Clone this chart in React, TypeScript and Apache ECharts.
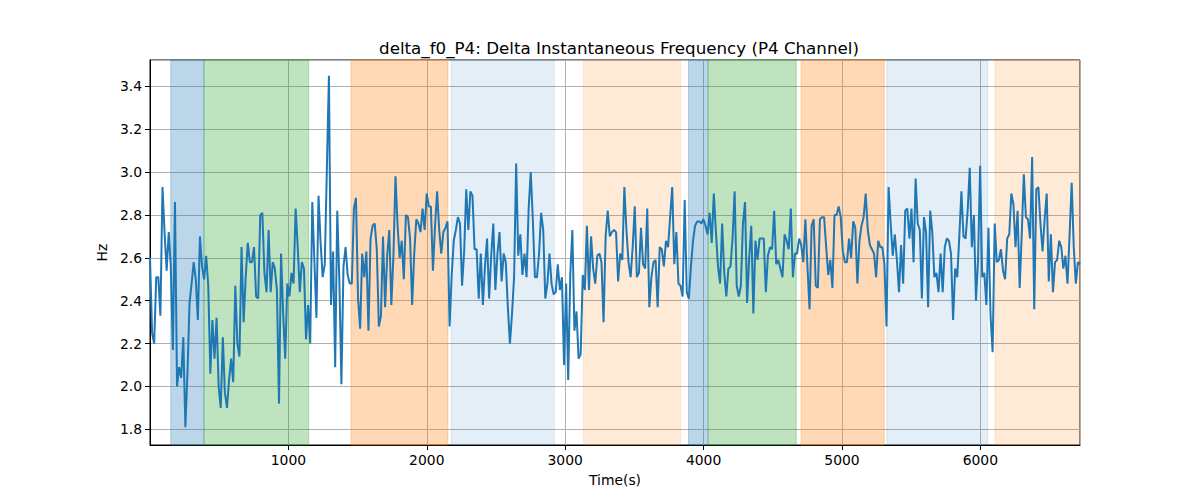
import React, { useEffect, useRef } from "react";
import * as echarts from "echarts";

const TITLE = "delta_f0_P4: Delta Instantaneous Frequency (P4 Channel)";
const X_NAME = "Time(s)";
const Y_NAME = "Hz";
const TIME_MAX = 6720;
const Y_MIN = 1.727;
const Y_MAX = 3.523;

// delta instantaneous frequency values (Hz), evenly sampled over 0..TIME_MAX
const values: number[] = [
  // 0 - ~850
  2.60, 2.25, 2.20, 2.51, 2.51, 2.33, 2.93, 2.72, 2.54, 2.72, 2.56, 2.17, 2.86, 2.00, 2.09, 2.04, 2.23, 1.81, 2.06, 2.39,
  2.48, 2.58, 2.50, 2.31, 2.70, 2.56, 2.50, 2.61, 2.47, 2.06, 2.31, 2.13, 2.32, 2.00, 1.90, 2.23, 1.97, 1.90, 2.03, 2.13,
  2.02, 2.47, 2.20, 2.14, 2.65, 2.30, 2.51, 2.67, 2.58, 2.58, 2.65, 2.42, 2.41, 2.80, 2.81, 2.53, 2.44,
  // ~850 - ~1700
  2.73, 2.44, 2.58, 2.55, 2.45, 1.92, 2.62, 2.34, 2.13, 2.48, 2.42, 2.53, 2.48, 2.83, 2.65, 2.44, 2.58, 2.55, 2.22, 2.38,
  2.20, 2.86, 2.59, 2.32, 2.89, 2.67, 2.51, 2.57, 3.01, 3.45, 2.38, 2.63, 2.09, 2.82, 2.50, 2.01, 2.56, 2.65, 2.52, 2.48,
  2.48, 2.83, 2.88, 2.41, 2.27, 2.62, 2.51, 2.63, 2.26, 2.69, 2.75, 2.76, 2.64, 2.28, 2.33, 2.70,
  // ~1700 - ~2550
  2.37, 2.61, 2.73, 2.38, 2.61, 2.98, 2.75, 2.60, 2.68, 2.50, 2.80, 2.79, 2.69, 2.38, 2.62, 2.78, 2.76, 2.72, 2.83, 2.73,
  2.90, 2.84, 2.84, 2.54, 2.75, 2.91, 2.73, 2.62, 2.72, 2.74, 2.77, 2.28, 2.52, 2.68, 2.73, 2.79, 2.76, 2.47, 2.63, 2.92,
  2.73, 2.91, 2.89, 2.64, 2.64, 2.41, 2.62, 2.38, 2.56, 2.69, 2.41, 2.61, 2.76, 2.45, 2.62,
  // ~2550 - ~3400
  2.72, 2.49, 2.62, 2.58, 2.37, 2.20, 2.34, 2.51, 3.04, 2.61, 2.71, 2.52, 2.62, 2.51, 2.83, 3.00, 2.78, 2.51, 2.51, 2.62,
  2.81, 2.73, 2.41, 2.48, 2.62, 2.48, 2.43, 2.44, 2.57, 2.45, 2.51, 2.10, 2.48, 2.03, 2.52, 2.73, 2.26, 2.35, 2.13, 2.15,
  2.52, 2.45, 2.75, 2.45, 2.70, 2.55, 2.48, 2.61, 2.62, 2.58, 2.30, 2.70, 2.82, 2.70, 2.72, 2.73, 2.72, 2.49,
  // ~3400 - ~4250
  2.62, 2.59, 2.93, 2.73, 2.58, 2.51, 2.65, 2.84, 2.51, 2.53, 2.74, 2.57, 2.55, 2.83, 2.37, 2.51, 2.58, 2.59, 2.37, 2.65,
  2.64, 2.56, 2.68, 2.65, 2.79, 2.93, 2.57, 2.72, 2.48, 2.47, 2.42, 2.87, 2.44, 2.41, 2.56, 2.68, 2.75, 2.77, 2.77, 2.76,
  2.78, 2.75, 2.71, 2.81, 2.67, 2.90, 2.72, 2.56, 2.48, 2.76, 2.53, 2.42, 2.55, 2.56, 2.69, 2.91, 2.47,
  // ~4250 - ~5100
  2.42, 2.47, 2.76, 2.86, 2.39, 2.60, 2.75, 2.34, 2.68, 2.59, 2.69, 2.69, 2.69, 2.44, 2.61, 2.65, 2.64, 2.82, 2.57, 2.59,
  2.55, 2.51, 2.71, 2.68, 2.64, 2.83, 2.51, 2.62, 2.62, 2.69, 2.66, 2.58, 2.78, 2.56, 2.36, 2.75, 2.78, 2.47, 2.46, 2.78,
  2.79, 2.79, 2.65, 2.52, 2.59, 2.46, 2.80, 2.80, 2.84, 2.79, 2.63, 2.58, 2.58, 2.69, 2.60, 2.77,
  // ~5100 - ~5950
  2.74, 2.48, 2.68, 2.75, 2.79, 2.90, 2.73, 2.66, 2.64, 2.62, 2.51, 2.68, 2.65, 2.65, 2.57, 2.28, 2.93, 2.76, 2.61, 2.71,
  2.59, 2.44, 2.66, 2.48, 2.82, 2.83, 2.69, 2.83, 2.58, 2.97, 2.76, 2.73, 2.41, 2.79, 2.72, 2.37, 2.82, 2.72, 2.51, 2.53,
  2.44, 2.62, 2.44, 2.65, 2.69, 2.68, 2.62, 2.31, 2.55, 2.51, 2.70, 2.91, 2.70, 2.69, 2.82,
  // ~5950 - 6720
  3.02, 2.65, 2.80, 2.40, 2.59, 3.03, 2.51, 2.53, 2.38, 2.74, 2.33, 2.16, 2.76, 2.58, 2.59, 2.64, 2.54, 2.50, 2.69, 2.71,
  2.90, 2.85, 2.65, 2.82, 2.46, 2.71, 2.99, 2.79, 2.78, 2.69, 3.07, 2.36, 2.92, 2.93, 2.76, 2.63, 2.78, 2.90, 2.49, 2.71,
  2.44, 2.58, 2.59, 2.68, 2.65, 2.55, 2.61, 2.48, 2.71, 2.95, 2.65, 2.48, 2.58, 2.57,
];

// shaded segments
const bandStarts = [150, 390, 1452, 2177, 3133, 3891, 4033, 4704, 5324, 6106];
const bandEnds = [390, 1147, 2152, 2922, 3833, 4033, 4670, 5305, 6053, 6720];
const bandColors = [
  "rgba(31,119,180,0.3)",
  "rgba(44,160,44,0.3)",
  "rgba(255,127,14,0.3)",
  "rgba(31,119,180,0.12)",
  "rgba(255,127,14,0.16)",
  "rgba(31,119,180,0.3)",
  "rgba(44,160,44,0.3)",
  "rgba(255,127,14,0.3)",
  "rgba(31,119,180,0.12)",
  "rgba(255,127,14,0.16)",
];

const FONT = "DejaVu Sans";

export default function App() {
  const ref = useRef<HTMLDivElement>(null);

  useEffect(() => {
    document.body.style.margin = "0";
    if (!ref.current) return;
    const chart = echarts.init(ref.current, null, { renderer: "svg" });
    const step = TIME_MAX / (values.length - 1);
    const lineData = values.map((v, i) => [i * step, v]);
    const areas = bandStarts.map((s, i) => [
      { xAxis: s, itemStyle: { color: bandColors[i], borderColor: bandColors[i], borderWidth: 1 } },
      { xAxis: bandEnds[i] },
    ]);

    chart.setOption({
      animation: false,
      backgroundColor: "#ffffff",
      textStyle: { fontFamily: FONT },
      title: {
        text: TITLE,
        left: 614,
        top: 34,
        textAlign: "center",
        textStyle: { fontFamily: FONT, fontSize: 16.7, fontWeight: "normal", color: "#000" },
      },
      grid: {
        left: 150,
        right: 120,
        top: 60,
        bottom: 55,
        show: true,
        borderColor: "#000",
        borderWidth: 1,
        backgroundColor: "transparent",
      },
      xAxis: {
        type: "value",
        min: 0,
        max: TIME_MAX,
        interval: 1000,
        name: X_NAME,
        nameLocation: "middle",
        nameGap: 28,
        nameTextStyle: { fontFamily: FONT, fontSize: 13.9, color: "#000" },
        axisLine: { show: true, onZero: false, lineStyle: { color: "#000", width: 1 } },
        axisTick: { show: true, inside: false, length: 5, lineStyle: { color: "#000" } },
        axisLabel: {
          margin: 8,
          fontFamily: FONT,
          fontSize: 13.9,
          color: "#000",
          showMinLabel: false,
          showMaxLabel: false,
          formatter: (v: number) => (v <= 0 || v > 6000 ? "" : String(v)),
        },
        splitLine: { show: true, lineStyle: { color: "#b0b0b0", width: 1 } },
      },
      yAxis: {
        type: "value",
        min: Y_MIN,
        max: Y_MAX,
        splitNumber: 9,
        name: Y_NAME,
        nameLocation: "middle",
        nameGap: 37,
        nameRotate: 90,
        nameTextStyle: { fontFamily: FONT, fontSize: 13.9, color: "#000" },
        axisLine: { show: true, onZero: false, lineStyle: { color: "#000", width: 1 } },
        axisTick: { show: true, inside: false, length: 5, lineStyle: { color: "#000" } },
        axisLabel: {
          margin: 8,
          fontFamily: FONT,
          fontSize: 13.9,
          color: "#000",
          showMinLabel: false,
          showMaxLabel: false,
          formatter: (v: number) => v.toFixed(1),
        },
        splitLine: { show: true, lineStyle: { color: "#b0b0b0", width: 1 } },
      },
      series: [
        {
          type: "line",
          data: [],
          silent: true,
          z: 1,
          markArea: { silent: true, data: areas },
        },
        {
          type: "line",
          data: lineData,
          z: 3,
          showSymbol: false,
          symbol: "none",
          lineStyle: { color: "#1f77b4", width: 2 },
          itemStyle: { color: "#1f77b4" },
        },
      ],
    });
    return () => chart.dispose();
  }, []);

  return <div ref={ref} style={{ width: 1200, height: 500 }} />;
}
